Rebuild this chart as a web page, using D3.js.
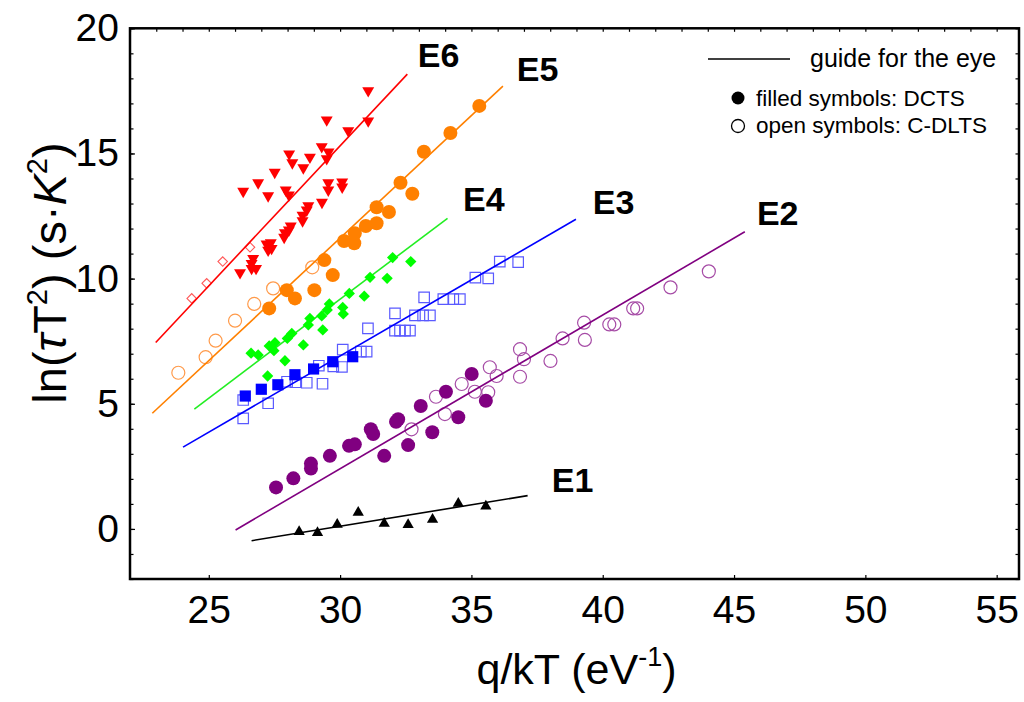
<!DOCTYPE html>
<html>
<head>
<meta charset="utf-8">
<script src="https://cdn.jsdelivr.net/npm/d3@7"></script>
<style>
    body { margin: 0; background: #fff; }
    svg { display: block; font-family: Arial, "Liberation Sans", sans-serif; }
</style>
</head>
<body>
<div id="chart"></div>
<script>
// tick values
const xTicks = [25, 30, 35, 40, 45, 50, 55];
const yTicks = [0, 5, 10, 15, 20];

// E6 (red): filled triangles = DCTS, open diamonds = C-DLTS
const e6Filled = [
    [31.07, 17.51], [29.49, 16.34], [31.07, 16.30], [30.31, 15.91], [28.06, 14.98],
    [29.30, 15.27], [29.56, 15.06], [28.85, 14.85], [28.18, 14.63], [29.49, 14.79],
    [28.60, 14.43], [27.51, 14.25], [26.88, 13.83], [26.31, 13.49], [27.26, 13.31],
    [27.93, 13.54], [28.05, 13.34], [29.55, 13.83], [29.55, 13.54], [30.08, 13.86],
    [30.08, 13.66], [29.31, 13.05], [28.79, 12.91], [28.73, 12.74], [28.57, 12.53],
    [28.57, 12.31], [28.12, 12.10], [28.05, 11.94], [27.90, 11.83], [27.87, 11.65],
    [27.36, 11.43], [27.20, 11.38], [27.39, 11.21], [27.26, 11.14], [26.69, 10.81],
    [26.63, 10.61], [26.80, 10.41], [26.63, 10.41], [26.19, 10.24]
];
const e6Open = [[24.35, 9.21], [24.92, 9.81], [25.53, 10.68], [26.57, 11.25]];

// E5 (orange): filled and open circles
const e5Filled = [
    [35.30, 16.90], [34.20, 15.82], [33.19, 15.07], [32.30, 13.83], [32.75, 13.39],
    [31.39, 12.85], [31.86, 12.66], [31.39, 12.21], [30.98, 12.10], [30.56, 11.81],
    [30.54, 11.41], [30.15, 11.50], [29.40, 10.74], [29.72, 10.14], [27.97, 9.54],
    [29.02, 9.54], [28.28, 9.21], [27.30, 8.81]
];
const e5Open = [[23.84, 6.24], [24.88, 6.86], [25.26, 7.52], [26.00, 8.32], [26.73, 8.99], [27.45, 9.61], [28.94, 10.45]];

// E4 (green): filled diamonds
const e4Filled = [
    [32.00, 10.84], [32.69, 10.68], [31.14, 10.05], [31.79, 10.01], [30.35, 9.41],
    [30.92, 9.30], [29.59, 8.99], [30.10, 8.85], [29.51, 8.75], [30.12, 8.59],
    [28.85, 8.41], [29.30, 8.51], [28.79, 8.15], [29.34, 7.95], [28.60, 7.35],
    [28.16, 7.81], [27.99, 7.61], [27.52, 7.44], [27.30, 7.31], [27.48, 7.12],
    [26.61, 7.02], [26.88, 6.95], [27.90, 6.72], [27.24, 6.11]
];

// E3 (blue): filled and open squares
const e3Filled = [[26.39, 5.31], [27.00, 5.58], [27.63, 5.76], [28.28, 6.16], [28.99, 6.39], [29.72, 6.68], [30.48, 6.88]];
const e3Open = [
    [26.31, 5.15], [26.31, 4.42], [27.26, 5.02], [27.98, 5.88], [28.30, 5.86],
    [28.73, 5.84], [29.33, 5.80], [29.19, 6.52], [29.74, 6.49], [30.07, 6.47],
    [30.10, 7.16], [30.79, 7.08], [31.01, 7.08], [31.06, 8.01], [32.09, 7.92],
    [32.28, 7.92], [32.47, 7.92], [32.66, 7.92], [32.09, 8.61], [32.85, 8.53],
    [33.16, 8.53], [33.42, 8.53], [33.20, 9.25], [33.93, 9.18], [34.31, 9.18],
    [34.56, 9.18], [35.15, 10.04], [35.64, 10.01], [36.08, 10.68], [36.78, 10.66]
];

// E2 (purple): filled and open circles
const e2Filled = [
    [27.56, 1.66], [28.22, 2.02], [28.89, 2.41], [28.89, 2.61], [29.61, 2.92],
    [30.34, 3.32], [30.56, 3.38], [31.17, 3.98], [31.26, 3.79], [32.13, 4.28],
    [32.21, 4.38], [33.07, 4.91], [34.03, 5.48], [35.01, 6.19], [31.68, 2.92],
    [32.59, 3.35], [33.51, 3.86], [34.50, 4.46], [35.55, 5.12]
];
const e2Open = [
    [32.72, 3.98], [33.65, 5.28], [33.99, 4.59], [34.63, 5.79], [35.13, 5.48],
    [35.64, 5.46], [35.70, 6.46], [35.96, 6.11], [36.85, 7.18], [36.85, 6.08],
    [37.00, 6.78], [38.01, 6.71], [38.47, 7.61], [39.32, 7.55], [39.29, 8.24],
    [40.25, 8.17], [40.44, 8.17], [41.16, 8.81], [41.31, 8.81], [42.58, 9.65],
    [44.04, 10.29]
];

// E1 (black): filled triangles
const e1Filled = [[28.44, -0.11], [29.14, -0.15], [29.89, 0.18], [30.69, 0.66], [31.68, 0.22], [32.59, 0.17], [33.52, 0.38], [34.50, 1.02], [35.55, 0.91]];

// guide-for-the-eye lines, [start, end]
const guideE6 = [[22.98, 7.45], [32.56, 18.17]];
const guideE5 = [[22.85, 4.62], [36.20, 17.69]];
const guideE4 = [[24.45, 4.79], [34.09, 12.41]];
const guideE3 = [[24.02, 3.27], [38.98, 12.37]];
const guideE2 = [[26.02, -0.04], [45.41, 11.87]];
const guideE1 = [[26.63, -0.47], [37.14, 1.33]];

// level labels
const levelNames = ['E6', 'E5', 'E4', 'E3', 'E2', 'E1'];
const levelLabelAt = [[32.96, 18.45], [36.73, 17.89], [34.68, 12.70], [39.62, 12.58], [45.87, 12.14], [38.06, 1.47]];

const width = 1024;
const height = 702;
const margin = { top: 28.3, left: 130, right: 5, bottom: 123 };

const svg = d3.select('#chart')
    .append('svg')
    .attr('width', width)
    .attr('height', height);

const x = d3.scaleLinear()
    .domain([22, 55.85])
    .range([margin.left, width - margin.right]);

const y = d3.scaleLinear()
    .domain([-2, 20])
    .range([height - margin.bottom, margin.top]);

const tickFont = '39px';

// minor ticks (every unit), pointing inward
const yMinor = d3.range(-2, 21);
const xMinor = d3.range(22, 56);

svg.append('g')
    .attr('transform', `translate(${x.range()[0]},0)`)
    .call(d3.axisLeft(y).tickValues(yMinor).tickSize(-3.5).tickFormat(''))
    .call(g => g.select('.domain').remove());

svg.append('g')
    .attr('transform', `translate(${x.range()[1]},0)`)
    .call(d3.axisRight(y).tickValues(yMinor).tickSize(-3.5).tickFormat(''))
    .call(g => g.select('.domain').remove());

svg.append('g')
    .attr('transform', `translate(0,${y.range()[1]})`)
    .call(d3.axisTop(x).tickValues(xMinor).tickSize(-3.5).tickFormat(''))
    .call(g => g.select('.domain').remove());

// major axes with labels
svg.append('g')
    .attr('transform', `translate(${x.range()[0]},0)`)
    .call(d3.axisLeft(y).tickValues(yTicks).tickSize(-5).tickPadding(11))
    .call(g => g.select('.domain').remove())
    .call(g => g.selectAll('text')
        .attr('font-size', tickFont)
        .attr('font-family', 'Arial, "Liberation Sans", sans-serif')
        .attr('fill', '#000'));

svg.append('g')
    .attr('transform', `translate(0,${y.range()[0]})`)
    .call(d3.axisBottom(x).tickValues(xTicks).tickSize(-4).tickPadding(16))
    .call(g => g.select('.domain').remove())
    .call(g => g.selectAll('text')
        .attr('font-size', tickFont)
        .attr('font-family', 'Arial, "Liberation Sans", sans-serif')
        .attr('fill', '#000'));

svg.selectAll('.tick line').attr('stroke', '#000').attr('stroke-width', 1.2);

// frame
svg.append('rect')
    .attr('x', x.range()[0])
    .attr('y', y.range()[1])
    .attr('width', x.range()[1] - x.range()[0])
    .attr('height', y.range()[0] - y.range()[1])
    .attr('fill', 'none')
    .attr('stroke', '#000')
    .attr('stroke-width', 2.5);

// axis titles
const xTitle = svg.append('text')
    .attr('x', (x.range()[0] + x.range()[1]) / 2 + 2)
    .attr('y', 684)
    .attr('text-anchor', 'middle')
    .attr('font-size', '43px');
xTitle.append('tspan').text('q/kT (eV');
xTitle.append('tspan').attr('font-size', '27px').attr('dy', -18).text('-1');
xTitle.append('tspan').attr('dy', 18).text(')');

const yTitle = svg.append('text')
    .attr('transform', 'translate(66,273) rotate(-90)')
    .attr('text-anchor', 'middle')
    .attr('font-size', '47px');
yTitle.append('tspan').text('ln(');
yTitle.append('tspan').attr('font-style', 'italic').text('τ');
yTitle.append('tspan').text('T');
yTitle.append('tspan').attr('font-size', '29px').attr('dy', -19).text('2');
yTitle.append('tspan').attr('dy', 19).text(') (s·');
yTitle.append('tspan').attr('font-style', 'italic').text('K');
yTitle.append('tspan').attr('font-size', '29px').attr('dy', -19).text('2');
yTitle.append('tspan').attr('dy', 19).text(')');

// markers
const pos = d => `translate(${x(d[0])},${y(d[1])})`;

const drawSymbols = (data, type, size, rotate, fill, stroke, strokeWidth) => {
    svg.append('g')
        .selectAll('path')
        .data(data)
        .join('path')
        .attr('d', d3.symbol().type(type).size(size))
        .attr('transform', d => `${pos(d)} rotate(${rotate})`)
        .attr('fill', fill)
        .attr('stroke', stroke)
        .attr('stroke-width', strokeWidth);
};

const drawCircles = (data, r, fill, stroke, strokeWidth) => {
    svg.append('g')
        .selectAll('circle')
        .data(data)
        .join('circle')
        .attr('cx', d => x(d[0]))
        .attr('cy', d => y(d[1]))
        .attr('r', r)
        .attr('fill', fill)
        .attr('stroke', stroke)
        .attr('stroke-width', strokeWidth);
};

// open symbols first
drawSymbols(e6Open, d3.symbolSquare, 45, 45, 'none', '#ff5a5a', 1.1);
drawCircles(e5Open, 6.5, 'none', '#ff9a4a', 1.2);
drawSymbols(e3Open, d3.symbolSquare, 110, 0, 'none', '#5a5aff', 1.2);
drawCircles(e2Open, 6.5, 'none', '#a64ca6', 1.2);

// guide lines
const guides = [
    { line: guideE6, color: '#ff0000' },
    { line: guideE5, color: '#ff8000' },
    { line: guideE4, color: '#22ee22' },
    { line: guideE3, color: '#0000ff' },
    { line: guideE2, color: '#800080' },
    { line: guideE1, color: '#000000' }
];

svg.append('g')
    .selectAll('line')
    .data(guides)
    .join('line')
    .attr('x1', d => x(d.line[0][0]))
    .attr('y1', d => y(d.line[0][1]))
    .attr('x2', d => x(d.line[1][0]))
    .attr('y2', d => y(d.line[1][1]))
    .attr('stroke', d => d.color)
    .attr('stroke-width', 1.6);

// filled symbols
drawSymbols(e6Filled, d3.symbolTriangle, 62, 180, '#ff0000', 'none', 0);
drawCircles(e5Filled, 7, '#ff8000', 'none', 0);
drawSymbols(e4Filled, d3.symbolSquare, 64, 45, '#00ff00', 'none', 0);
drawSymbols(e3Filled, d3.symbolSquare, 125, 0, '#0000ff', 'none', 0);
drawCircles(e2Filled, 7, '#800080', 'none', 0);
drawSymbols(e1Filled, d3.symbolTriangle, 55, 0, '#000000', 'none', 0);

// level labels
svg.append('g')
    .selectAll('text')
    .data(levelNames)
    .join('text')
    .attr('x', (d, i) => x(levelLabelAt[i][0]))
    .attr('y', (d, i) => y(levelLabelAt[i][1]))
    .attr('font-size', '34px')
    .attr('font-weight', 'bold')
    .text(d => d);

// legend
const legend = svg.append('g');
legend.append('line')
    .attr('x1', 708).attr('x2', 790)
    .attr('y1', 59).attr('y2', 59)
    .attr('stroke', '#000')
    .attr('stroke-width', 1.6);
legend.append('text')
    .attr('x', 810).attr('y', 67)
    .attr('font-size', '25px')
    .text('guide for the eye');
legend.append('circle')
    .attr('cx', 738).attr('cy', 98).attr('r', 6.5)
    .attr('fill', '#000');
legend.append('text')
    .attr('x', 756).attr('y', 106)
    .attr('font-size', '22.5px')
    .text('filled symbols: DCTS');
legend.append('circle')
    .attr('cx', 738).attr('cy', 126).attr('r', 6.5)
    .attr('fill', 'none')
    .attr('stroke', '#000')
    .attr('stroke-width', 1.3);
legend.append('text')
    .attr('x', 756).attr('y', 133)
    .attr('font-size', '22.5px')
    .text('open symbols: C-DLTS');
</script>
</body>
</html>
